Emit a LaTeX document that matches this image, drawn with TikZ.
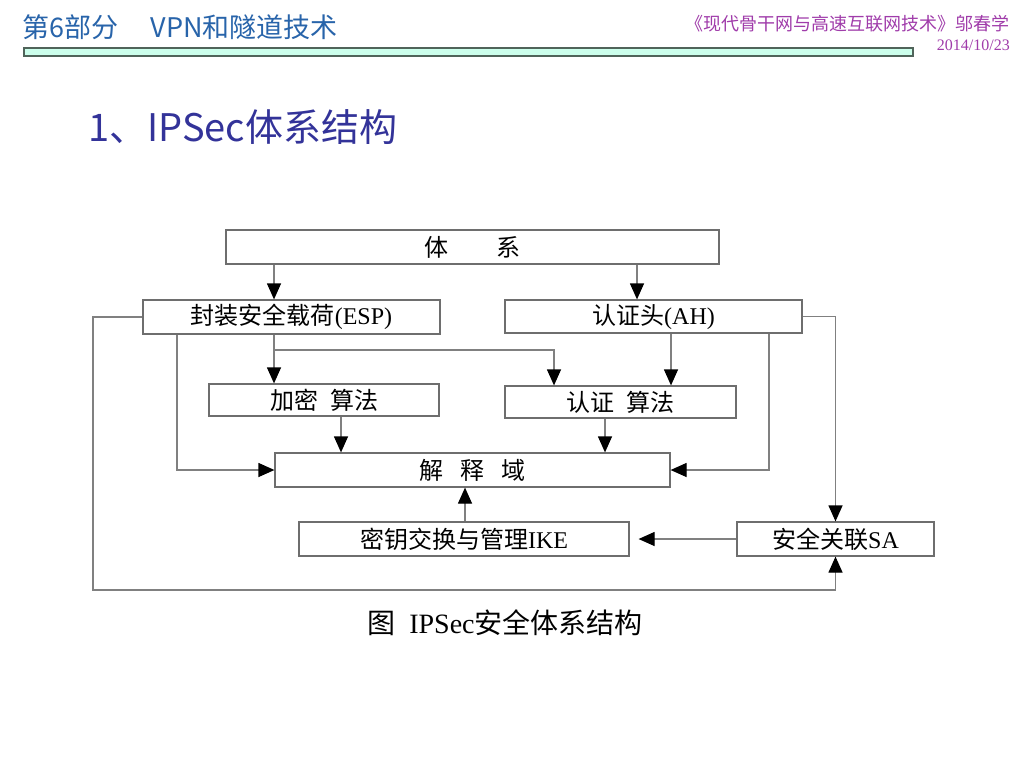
\documentclass[tikz,border=0pt]{standalone}
\usepackage{fontspec}
\setmainfont{Liberation Serif}
\newfontfamily\cjk{Noto Sans CJK SC}
\usetikzlibrary{arrows.meta}
\definecolor{hdrblue}{RGB}{40,100,170}
\definecolor{titleblue}{RGB}{51,51,153}
\definecolor{refpurple}{RGB}{160,60,170}
\definecolor{barfill}{RGB}{204,255,236}
\definecolor{barborder}{RGB}{80,100,90}
\definecolor{boxgray}{RGB}{110,110,110}
\definecolor{linegray}{RGB}{128,128,128}
\begin{document}
\begin{tikzpicture}[x=1pt,y=-1pt,
  box/.style={draw=boxgray, line width=1.2pt, inner sep=0pt, font=\fontsize{24}{28}\selectfont},
  link/.style={draw=linegray, line width=1.2pt},
  arr/.style={link, -{Triangle[length=16pt,width=14pt,color=black]}}]
\useasboundingbox (0,0) rectangle (1024,768);
\fill[white] (0,0) rectangle (1024,768);

% header
\node[anchor=west, inner sep=0pt, text=hdrblue, font=\cjk\fontsize{27}{30}\selectfont] (hdr) at (22,27) {第6部分\hspace{1.2em}VPN和隧道技术};
\node[anchor=east, inner sep=0pt, text=refpurple, font=\cjk\fontsize{18}{20}\selectfont] (book) at (1010,24) {《现代骨干网与高速互联网技术》邬春学};
\node[anchor=east, inner sep=0pt, text=refpurple, font=\fontsize{16}{18}\selectfont] (date) at (1010,45) {2014/10/23};
\draw[draw=barborder, fill=barfill, line width=1.5pt] (24,48) rectangle (913,56);

% title
\node[anchor=west, inner sep=0pt, text=titleblue, font=\cjk\fontsize{38}{42}\selectfont] (title) at (88,127) {1、IPSec体系结构};

% boxes
\node[box, minimum width=493pt, minimum height=34pt] (sys) at (472.5,247) {{\cjk 体\hspace{2em}系}};
\node[box, minimum width=297pt, minimum height=34pt] (esp) at (291.5,317) {{\cjk 封装安全载荷}(ESP)};
\node[box, minimum width=297pt, minimum height=33pt] (ah) at (653.5,316.5) {{\cjk 认证头}(AH)};
\node[box, minimum width=230pt, minimum height=32pt] (enc) at (324,400) {{\cjk 加密\hspace{0.5em}算法}};
\node[box, minimum width=231pt, minimum height=32pt] (auth) at (620.5,402) {{\cjk 认证\hspace{0.5em}算法}};
\node[box, minimum width=395pt, minimum height=34pt] (doi) at (472.5,470) {{\cjk 解\hspace{0.7em}释\hspace{0.7em}域}};
\node[box, minimum width=330pt, minimum height=34pt] (ike) at (464,539) {{\cjk 密钥交换与管理}IKE};
\node[box, minimum width=197pt, minimum height=34pt] (sa) at (835.5,539) {{\cjk 安全关联}SA};

% caption
\node[inner sep=0pt, font=\fontsize{28}{32}\selectfont] (cap) at (505,623) {{\cjk 图}\hspace{0.5em}IPSec{\cjk 安全体系结构}};

% helper coordinates
\coordinate (x274) at (274,0);
\coordinate (x637) at (637,0);
\coordinate (x554) at (554,0);
\coordinate (x671) at (671,0);
\coordinate (x177) at (177,0);
\coordinate (x769) at (769,0);
\coordinate (x341) at (341,0);
\coordinate (x605) at (605,0);
\coordinate (x465) at (465,0);
\coordinate (b1) at (274,350);
\coordinate (lp) at (93,590);

% connectors
\draw[arr] (sys.south -| x274) -- (esp.north -| x274);
\draw[arr] (sys.south -| x637) -- (ah.north -| x637);
\draw[arr] (esp.south -| x274) -- (enc.north -| x274);
\draw[arr] (b1) -| (auth.north -| x554);
\draw[arr] (ah.south -| x671) -- (auth.north -| x671);
\draw[arr] (esp.south -| x177) |- (doi.west);
\draw[arr] (ah.south -| x769) |- (doi.east);
\draw[arr] (enc.south -| x341) -- (doi.north -| x341);
\draw[arr] (auth.south -| x605) -- (doi.north -| x605);
\draw[arr] (ike.north -| x465) -- (doi.south -| x465);
\draw[arr] (ah.east) -| (sa.north);
\draw[arr] (esp.west) -| (lp) -| (sa.south);
\draw[arr, shorten >=9pt] (sa.west) -- (ike.east);
\end{tikzpicture}
\end{document}
